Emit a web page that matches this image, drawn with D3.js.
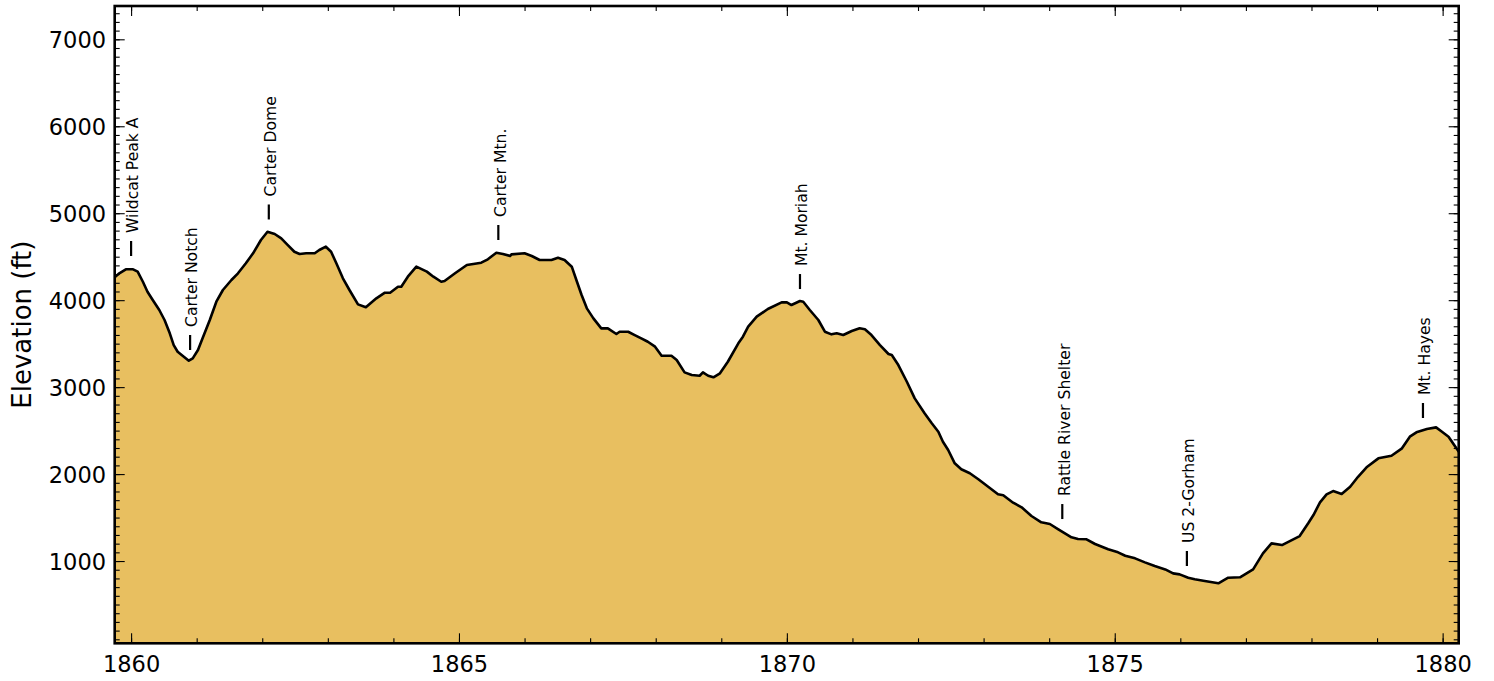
<!DOCTYPE html>
<html>
<head>
<meta charset="utf-8">
<script src="https://cdn.jsdelivr.net/npm/d3@7"></script>
<style>
  body { margin: 0; background: #fff; }
  svg text { font-family: "DejaVu Sans", sans-serif; }
</style>
</head>
<body>
<svg id="chart" width="1494" height="681"></svg>
<script>
// Trail elevation profile: distance marker along the trail vs elevation (ft)
const miles = [
  1859.75, 1859.82, 1859.92, 1860.03, 1860.10, 1860.18, 1860.25, 1860.33, 1860.43, 1860.51,
  1860.59, 1860.65, 1860.71, 1860.79, 1860.88, 1860.94, 1861.02, 1861.09, 1861.20, 1861.30,
  1861.40, 1861.53, 1861.63, 1861.75, 1861.86, 1861.98, 1862.08, 1862.19, 1862.29, 1862.39,
  1862.49, 1862.57, 1862.67, 1862.80, 1862.87, 1862.97, 1863.05, 1863.13, 1863.23, 1863.33,
  1863.46, 1863.58, 1863.74, 1863.87, 1863.95, 1864.07, 1864.12, 1864.22, 1864.35, 1864.51,
  1864.61, 1864.73, 1864.78, 1864.94, 1865.12, 1865.34, 1865.44, 1865.57, 1865.67, 1865.78,
  1865.80, 1866.00, 1866.11, 1866.23, 1866.41, 1866.51, 1866.61, 1866.72, 1866.79, 1866.87,
  1866.95, 1867.05, 1867.17, 1867.27, 1867.40, 1867.45, 1867.58, 1867.68, 1867.78, 1867.88,
  1867.99, 1868.09, 1868.24, 1868.32, 1868.44, 1868.55, 1868.67, 1868.72, 1868.80, 1868.88,
  1868.98, 1869.10, 1869.26, 1869.33, 1869.41, 1869.54, 1869.71, 1869.92, 1870.00, 1870.07,
  1870.20, 1870.25, 1870.35, 1870.48, 1870.58, 1870.68, 1870.76, 1870.86, 1870.99, 1871.11,
  1871.19, 1871.29, 1871.42, 1871.55, 1871.60, 1871.70, 1871.83, 1871.95, 1872.10, 1872.21,
  1872.31, 1872.38, 1872.46, 1872.56, 1872.66, 1872.79, 1872.92, 1873.07, 1873.22, 1873.30,
  1873.45, 1873.58, 1873.73, 1873.88, 1874.01, 1874.14, 1874.34, 1874.44, 1874.57, 1874.70,
  1874.90, 1875.05, 1875.16, 1875.31, 1875.46, 1875.61, 1875.77, 1875.89, 1875.99, 1876.12,
  1876.22, 1876.35, 1876.58, 1876.73, 1876.91, 1877.11, 1877.26, 1877.39, 1877.55, 1877.67,
  1877.82, 1877.95, 1878.03, 1878.13, 1878.23, 1878.33, 1878.46, 1878.59, 1878.71, 1878.84,
  1879.02, 1879.22, 1879.38, 1879.50, 1879.60, 1879.76, 1879.90, 1879.99, 1880.09, 1880.21,
  1880.25
];
const elevations = [
  4263, 4309, 4355, 4355, 4328, 4212, 4097, 4002, 3887, 3772,
  3619, 3484, 3407, 3358, 3304, 3331, 3427, 3561, 3772, 3982,
  4117, 4232, 4309, 4424, 4539, 4692, 4787, 4761, 4711, 4634,
  4557, 4531, 4539, 4539, 4577, 4615, 4557, 4424, 4251, 4117,
  3952, 3918, 4021, 4086, 4086, 4155, 4155, 4270, 4385, 4328,
  4270, 4212, 4220, 4309, 4405, 4431, 4470, 4546, 4531, 4508,
  4527, 4539, 4508, 4462, 4462, 4488, 4462, 4385, 4232, 4059,
  3906, 3791, 3676, 3676, 3611, 3637, 3637, 3599, 3561, 3522,
  3465, 3361, 3361, 3312, 3170, 3139, 3131, 3170, 3131, 3113,
  3159, 3292, 3504, 3580, 3695, 3810, 3898, 3975, 3975, 3944,
  3990, 3982, 3887, 3772, 3637, 3607, 3619, 3599, 3645, 3676,
  3665, 3599, 3484, 3381, 3369, 3254, 3062, 2871, 2699, 2584,
  2487, 2372, 2277, 2124, 2055, 2009, 1940, 1855, 1767, 1756,
  1671, 1618, 1518, 1445, 1426, 1365, 1273, 1253, 1250, 1196,
  1135, 1100, 1061, 1031, 985, 942, 904, 858, 847, 808,
  790, 774, 744, 808, 813, 904, 1088, 1203, 1184, 1230,
  1287, 1434, 1529, 1675, 1767, 1805, 1771, 1855, 1969, 2078,
  2181, 2211, 2296, 2430, 2480, 2518, 2537, 2487, 2430, 2296,
  2254
];

// Named points along the route
const landmarkNames = [
  "Wildcat Peak A", "Carter Notch", "Carter Dome", "Carter Mtn.",
  "Mt. Moriah", "Rattle River Shelter", "US 2-Gorham", "Mt. Hayes"
];
const landmarkMiles = [1860.0, 1860.90, 1862.10, 1865.60, 1870.20, 1874.20, 1876.10, 1879.70];
const landmarkElevations = [4370, 3289, 4790, 4554, 3990, 1345, 805, 2507];

// Axis ticks
const xMajorTicks = [1860, 1865, 1870, 1875, 1880];
const xMinorTicks = d3.range(1860, 1881, 1);
const yMajorTicks = [1000, 2000, 3000, 4000, 5000, 6000, 7000];
const yMinorTicks = d3.range(100, 7400, 100);

const xDomain = [1859.75, 1880.245];
const yDomain = [54, 7383];

const svg = d3.select("#chart");
const plot = { left: 114.7, right: 1458.7, top: 6, bottom: 643.3 };

const x = d3.scaleLinear().domain(xDomain).range([plot.left, plot.right]);
const y = d3.scaleLinear().domain(yDomain).range([plot.bottom, plot.top]);

svg.append("defs").append("clipPath").attr("id", "plot-clip")
  .append("rect")
  .attr("x", plot.left).attr("y", plot.top)
  .attr("width", plot.right - plot.left).attr("height", plot.bottom - plot.top);

const profile = miles.map((m, i) => ({ mile: m, elev: elevations[i] }));

const area = d3.area()
  .x(d => x(d.mile))
  .y0(y(yDomain[0]))
  .y1(d => y(d.elev));

const line = d3.line()
  .x(d => x(d.mile))
  .y(d => y(d.elev));

const g = svg.append("g").attr("clip-path", "url(#plot-clip)");
g.append("path").datum(profile)
  .attr("d", area)
  .attr("fill", "#e8bf60");
g.append("path").datum(profile)
  .attr("d", line)
  .attr("fill", "none")
  .attr("stroke", "#000")
  .attr("stroke-width", 2.6)
  .attr("stroke-linejoin", "round");

// Ticks point inward on all four sides
function tickAxis(axisFn, scale, values, size, labels) {
  const a = axisFn(scale).tickValues(values).tickSizeInner(-size).tickSizeOuter(0);
  if (!labels) a.tickFormat("");
  return a;
}
function styleAxis(sel) {
  sel.select(".domain").remove();
  sel.selectAll(".tick line").attr("stroke", "#000").attr("stroke-width", 1.1);
}

svg.append("g").attr("transform", `translate(0,${plot.bottom})`)
  .call(tickAxis(d3.axisBottom, x, xMinorTicks, 5, false)).call(styleAxis);
svg.append("g").attr("transform", `translate(0,${plot.top})`)
  .call(tickAxis(d3.axisTop, x, xMinorTicks, 5, false)).call(styleAxis);
svg.append("g").attr("transform", `translate(0,${plot.top})`)
  .call(tickAxis(d3.axisTop, x, xMajorTicks, 10, false)).call(styleAxis);

const xAxis = svg.append("g").attr("transform", `translate(0,${plot.bottom})`)
  .call(tickAxis(d3.axisBottom, x, xMajorTicks, 10, true).tickFormat(d3.format("d")).tickPadding(0))
  .call(styleAxis);
xAxis.selectAll(".tick text")
  .attr("y", 28.4).attr("dy", null)
  .attr("font-size", 22.5).attr("fill", "#000")
  .style("font-family", '"DejaVu Sans", sans-serif');

svg.append("g").attr("transform", `translate(${plot.left},0)`)
  .call(tickAxis(d3.axisLeft, y, yMinorTicks, 5, false)).call(styleAxis);
svg.append("g").attr("transform", `translate(${plot.right},0)`)
  .call(tickAxis(d3.axisRight, y, yMinorTicks, 5, false)).call(styleAxis);
svg.append("g").attr("transform", `translate(${plot.right},0)`)
  .call(tickAxis(d3.axisRight, y, yMajorTicks, 10, false)).call(styleAxis);

const yAxis = svg.append("g").attr("transform", `translate(${plot.left},0)`)
  .call(tickAxis(d3.axisLeft, y, yMajorTicks, 10, true).tickFormat(d3.format("d")))
  .call(styleAxis);
yAxis.selectAll(".tick text")
  .attr("x", -8.7).attr("dy", "0.36em")
  .attr("font-size", 22.5).attr("fill", "#000")
  .style("font-family", '"DejaVu Sans", sans-serif');

// Frame
svg.append("rect")
  .attr("x", plot.left).attr("y", plot.top)
  .attr("width", plot.right - plot.left).attr("height", plot.bottom - plot.top)
  .attr("fill", "none").attr("stroke", "#000").attr("stroke-width", 2.6);

// Axis title
svg.append("text")
  .attr("transform", `translate(31,${(plot.top + plot.bottom) / 2}) rotate(-90)`)
  .attr("text-anchor", "middle")
  .attr("font-size", 26)
  .attr("fill", "#000")
  .text("Elevation (ft)");

// Landmark labels: short marker above the profile, name written upward
const landmarks = landmarkNames.map((n, i) => ({
  name: n, mile: landmarkMiles[i], elev: landmarkElevations[i]
}));
const lm = svg.append("g").selectAll("g").data(landmarks).join("g");
lm.append("line")
  .attr("x1", d => x(d.mile)).attr("x2", d => x(d.mile))
  .attr("y1", d => y(d.elev) - 12).attr("y2", d => y(d.elev) - 27)
  .attr("stroke", "#000").attr("stroke-width", 2.2);
lm.append("text")
  .attr("transform", d => `translate(${x(d.mile) + 7.3},${y(d.elev) - 35}) rotate(-90)`)
  .attr("font-size", 15.6)
  .attr("fill", "#000")
  .text(d => d.name);
</script>
</body>
</html>
